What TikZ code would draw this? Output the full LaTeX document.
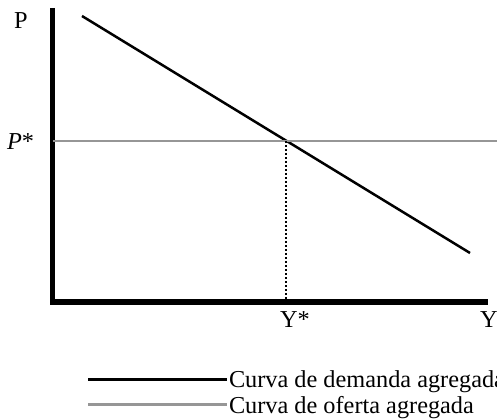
\documentclass[tikz,border=0pt]{standalone}
\usepackage{fontspec}
\setmainfont{Liberation Serif}
\definecolor{supplygray}{RGB}{150,150,150}
\begin{document}
\begin{tikzpicture}[x=1pt,y=-1pt,
  axisline/.style={line width=5.5pt, line join=miter},
  demandline/.style={line width=2.5pt, black},
  supplyline/.style={line width=2.2pt, supplygray},
  guideline/.style={line width=2pt, dash pattern=on 2pt off 2pt},
  lbl/.style={font=\fontsize{24.3}{28}\selectfont, inner sep=0pt, outer sep=0pt}]
\useasboundingbox (0,0) rectangle (497,419);
% axes
\coordinate (ytop) at (52.3,8);
\coordinate (origin) at (52.3,302);
\coordinate (xend) at (488,302);
\draw[axisline] (ytop) -- (origin) -- (xend);
% demand
\coordinate (d1) at (82,16);
\coordinate (d2) at (470,253);
\draw[demandline] (d1) -- (d2);
% supply
\coordinate (s1) at (53,141);
\coordinate (s2) at (497,141);
\draw[supplyline] (s1) -- (s2);
% equilibrium
\coordinate (eq) at (286,141);
\coordinate (eqbase) at (286,300);
\draw[guideline] (eq) -- (eqbase);
% labels
\node[lbl, anchor=base west] (plabel) at (14,29) {P};
\node[lbl, anchor=base west] (pstar) at (7,150) {\textit{P}*};
\node[lbl, anchor=base west] (ystar) at (280,327) {Y*};
\node[lbl, anchor=base west] (ylabel) at (480,327) {Y};
% legend
\coordinate (l1a) at (88,379);
\coordinate (l1b) at (227,379);
\coordinate (l2a) at (88,404);
\coordinate (l2b) at (227,404);
\draw[line width=3pt, black] (l1a) -- (l1b);
\draw[line width=3pt, supplygray] (l2a) -- (l2b);
\node[lbl, anchor=base west] (leg1) at (229,387) {Curva de demanda agregada};
\node[lbl, anchor=base west] (leg2) at (229,413) {Curva de oferta agregada};
\end{tikzpicture}
\end{document}
